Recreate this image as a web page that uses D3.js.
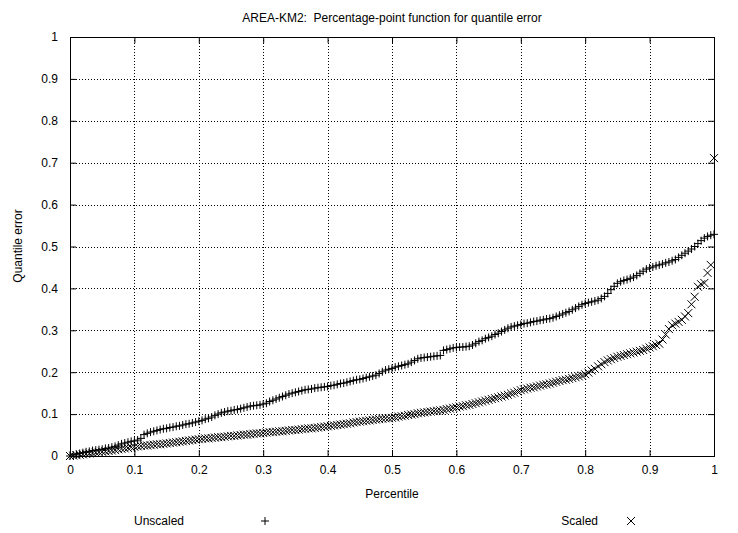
<!DOCTYPE html>
<html>
<head>
<meta charset="utf-8">
<script src="https://cdn.jsdelivr.net/npm/d3@7"></script>
<style>
  html, body { margin: 0; padding: 0; background: #fff; }
  svg { display: block; }
  text { font-family: "Liberation Sans", Arial, Helvetica, sans-serif; font-size: 12px; fill: #000; white-space: pre; }
</style>
</head>
<body>
<svg id="chart" width="738" height="533"></svg>
<script>
// Percentile positions of the sorted sample (201 points, 0 .. 1)
const percentiles = d3.range(201).map(i => i / 200);

// Sorted quantile errors, unscaled estimate
const unscaled = [
  0.000, 0.002, 0.004, 0.006, 0.008, 0.010, 0.011, 0.013, 0.014, 0.015,
  0.016, 0.018, 0.019, 0.021, 0.023, 0.026, 0.029, 0.031, 0.033, 0.035,
  0.036, 0.038, 0.042, 0.051, 0.054, 0.057, 0.059, 0.061, 0.063, 0.065,
  0.066, 0.068, 0.069, 0.071, 0.072, 0.074, 0.076, 0.077, 0.079, 0.081,
  0.083, 0.085, 0.088, 0.090, 0.093, 0.097, 0.100, 0.103, 0.105, 0.107,
  0.108, 0.110, 0.111, 0.113, 0.115, 0.117, 0.119, 0.120, 0.121, 0.122,
  0.124, 0.126, 0.130, 0.133, 0.136, 0.139, 0.142, 0.145, 0.148, 0.150,
  0.152, 0.154, 0.156, 0.158, 0.159, 0.160, 0.162, 0.163, 0.164, 0.165,
  0.166, 0.168, 0.169, 0.171, 0.173, 0.174, 0.176, 0.178, 0.180, 0.182,
  0.183, 0.185, 0.187, 0.189, 0.191, 0.193, 0.197, 0.201, 0.205, 0.207,
  0.209, 0.212, 0.214, 0.216, 0.218, 0.220, 0.224, 0.228, 0.232, 0.234,
  0.235, 0.236, 0.237, 0.238, 0.239, 0.240, 0.252, 0.254, 0.256, 0.258,
  0.259, 0.260, 0.260, 0.261, 0.262, 0.265, 0.269, 0.273, 0.276, 0.280,
  0.283, 0.286, 0.290, 0.293, 0.297, 0.301, 0.305, 0.308, 0.310, 0.312,
  0.314, 0.316, 0.317, 0.319, 0.321, 0.322, 0.324, 0.325, 0.327, 0.328,
  0.330, 0.333, 0.336, 0.339, 0.342, 0.345, 0.349, 0.353, 0.357, 0.361,
  0.364, 0.366, 0.368, 0.370, 0.372, 0.376, 0.381, 0.388, 0.397, 0.405,
  0.412, 0.416, 0.419, 0.421, 0.424, 0.427, 0.431, 0.436, 0.441, 0.446,
  0.449, 0.451, 0.454, 0.456, 0.458, 0.461, 0.463, 0.466, 0.469, 0.474,
  0.479, 0.484, 0.489, 0.494, 0.500, 0.507, 0.514, 0.520, 0.524, 0.527,
  0.529
];

// Sorted quantile errors, scaled estimate
const scaled = [
  0.000, 0.001, 0.002, 0.003, 0.004, 0.005, 0.006, 0.007, 0.008, 0.009,
  0.010, 0.011, 0.012, 0.013, 0.014, 0.016, 0.017, 0.018, 0.019, 0.021,
  0.022, 0.023, 0.024, 0.025, 0.025, 0.026, 0.027, 0.028, 0.028, 0.029,
  0.030, 0.031, 0.032, 0.033, 0.034, 0.035, 0.036, 0.037, 0.038, 0.039,
  0.040, 0.041, 0.042, 0.042, 0.043, 0.044, 0.045, 0.045, 0.046, 0.047,
  0.048, 0.048, 0.049, 0.050, 0.051, 0.051, 0.052, 0.053, 0.054, 0.054,
  0.055, 0.056, 0.057, 0.057, 0.058, 0.059, 0.059, 0.060, 0.061, 0.062,
  0.062, 0.063, 0.064, 0.065, 0.066, 0.066, 0.067, 0.068, 0.069, 0.070,
  0.071, 0.072, 0.073, 0.074, 0.075, 0.076, 0.077, 0.078, 0.080, 0.081,
  0.082, 0.083, 0.084, 0.085, 0.086, 0.087, 0.088, 0.089, 0.090, 0.090,
  0.091, 0.092, 0.094, 0.095, 0.096, 0.098, 0.099, 0.100, 0.102, 0.103,
  0.104, 0.105, 0.106, 0.107, 0.108, 0.109, 0.110, 0.112, 0.113, 0.115,
  0.116, 0.118, 0.119, 0.121, 0.122, 0.124, 0.126, 0.128, 0.130, 0.132,
  0.134, 0.136, 0.138, 0.140, 0.142, 0.144, 0.146, 0.149, 0.151, 0.154,
  0.157, 0.159, 0.161, 0.163, 0.164, 0.166, 0.168, 0.170, 0.171, 0.173,
  0.175, 0.177, 0.179, 0.181, 0.182, 0.184, 0.186, 0.188, 0.190, 0.192,
  0.195, 0.199, 0.204, 0.208, 0.214, 0.219, 0.224, 0.228, 0.231, 0.234,
  0.237, 0.239, 0.241, 0.243, 0.245, 0.247, 0.249, 0.251, 0.253, 0.256,
  0.259, 0.262, 0.265, 0.268, 0.278, 0.290, 0.303, 0.312, 0.316, 0.320,
  0.325, 0.333, 0.341, 0.362, 0.380, 0.404, 0.410, 0.413, 0.437, 0.456,
  0.711
];

const xTicks = [0, 0.1, 0.2, 0.3, 0.4, 0.5, 0.6, 0.7, 0.8, 0.9, 1];
const yTicks = [0, 0.1, 0.2, 0.3, 0.4, 0.5, 0.6, 0.7, 0.8, 0.9, 1];
const titleText = "AREA-KM2:  Percentage-point function for quantile error";
const xLabel = "Percentile";
const yLabel = "Quantile error";
const seriesNames = ["Unscaled", "Scaled"];

const svg = d3.select("#chart");
const plot = { left: 70, right: 714, top: 37, bottom: 456 };

const x = d3.scaleLinear().domain([0, 1]).range([plot.left, plot.right]);
const y = d3.scaleLinear().domain([0, 1]).range([plot.bottom, plot.top]);
const fmt = d => d3.format("")(+d.toFixed(1));

// Dotted grid
const grid = svg.append("g").attr("stroke", "#000").attr("stroke-width", 1)
  .attr("stroke-dasharray", "1,2").attr("fill", "none");
grid.selectAll("line.gx").data(xTicks.slice(1, -1)).join("line")
  .attr("x1", d => Math.round(x(d)) + 0.5).attr("x2", d => Math.round(x(d)) + 0.5)
  .attr("y1", plot.top).attr("y2", plot.bottom);
grid.selectAll("line.gy").data(yTicks.slice(1, -1)).join("line")
  .attr("y1", d => Math.round(y(d)) + 0.5).attr("y2", d => Math.round(y(d)) + 0.5)
  .attr("x1", plot.left).attr("x2", plot.right);

// Axes with inward ticks, mirrored on top and right
function styleAxis(g) {
  g.select(".domain").remove();
  g.selectAll(".tick line").attr("stroke", "#000");
  g.selectAll("text").style("font-family", '"Liberation Sans", Arial, sans-serif').style("font-size", "12px");
}
svg.append("g").attr("transform", `translate(0,${plot.bottom})`)
  .call(d3.axisBottom(x).tickValues(xTicks).tickSize(-6).tickPadding(9).tickFormat(fmt))
  .call(styleAxis);
svg.append("g").attr("transform", `translate(${plot.left},0)`)
  .call(d3.axisLeft(y).tickValues(yTicks).tickSize(-6).tickPadding(12).tickFormat(fmt))
  .call(styleAxis);
svg.append("g").attr("transform", `translate(0,${plot.top})`)
  .call(d3.axisTop(x).tickValues(xTicks).tickSize(-6).tickFormat(""))
  .call(styleAxis);
svg.append("g").attr("transform", `translate(${plot.right},0)`)
  .call(d3.axisRight(y).tickValues(yTicks).tickSize(-6).tickFormat(""))
  .call(styleAxis);

// Plot border
svg.append("rect")
  .attr("x", plot.left + 0.5).attr("y", plot.top + 0.5)
  .attr("width", plot.right - plot.left).attr("height", plot.bottom - plot.top)
  .attr("fill", "none").attr("stroke", "#000").attr("stroke-width", 1);

// Marker paths
const s = 4;
const plusPath = `M${-s},0H${s}M0,${-s}V${s}`;
const crossPath = `M${-s},${-s}L${s},${s}M${-s},${s}L${s},${-s}`;

const unscaledPts = percentiles.map((p, i) => [p, unscaled[i]]);
const scaledPts = percentiles.map((p, i) => [p, scaled[i]]);

svg.append("g").attr("stroke", "#000").attr("stroke-width", 1).attr("fill", "none")
  .selectAll("path").data(unscaledPts).join("path")
  .attr("transform", d => `translate(${x(d[0])},${y(d[1])})`)
  .attr("d", plusPath);

svg.append("g").attr("stroke", "#000").attr("stroke-width", 1).attr("fill", "none")
  .selectAll("path").data(scaledPts).join("path")
  .attr("transform", d => `translate(${x(d[0])},${y(d[1])})`)
  .attr("d", crossPath);

// Title and axis labels
svg.append("text").attr("x", 392).attr("y", 22).attr("text-anchor", "middle").text(titleText);
svg.append("text").attr("x", 392).attr("y", 498).attr("text-anchor", "middle").text(xLabel);
svg.append("text").attr("transform", "translate(22,246) rotate(-90)")
  .attr("text-anchor", "middle").text(yLabel);

// Legend
const legend = [
  { name: seriesNames[0], tx: 184, mx: 265, d: plusPath },
  { name: seriesNames[1], tx: 598, mx: 631, d: crossPath }
];
const lg = svg.append("g");
legend.forEach(l => {
  lg.append("text").attr("x", l.tx).attr("y", 525).attr("text-anchor", "end").text(l.name);
  lg.append("path").attr("transform", `translate(${l.mx},521)`).attr("d", l.d)
    .attr("stroke", "#000").attr("fill", "none").attr("stroke-width", 1);
});
</script>
</body>
</html>
